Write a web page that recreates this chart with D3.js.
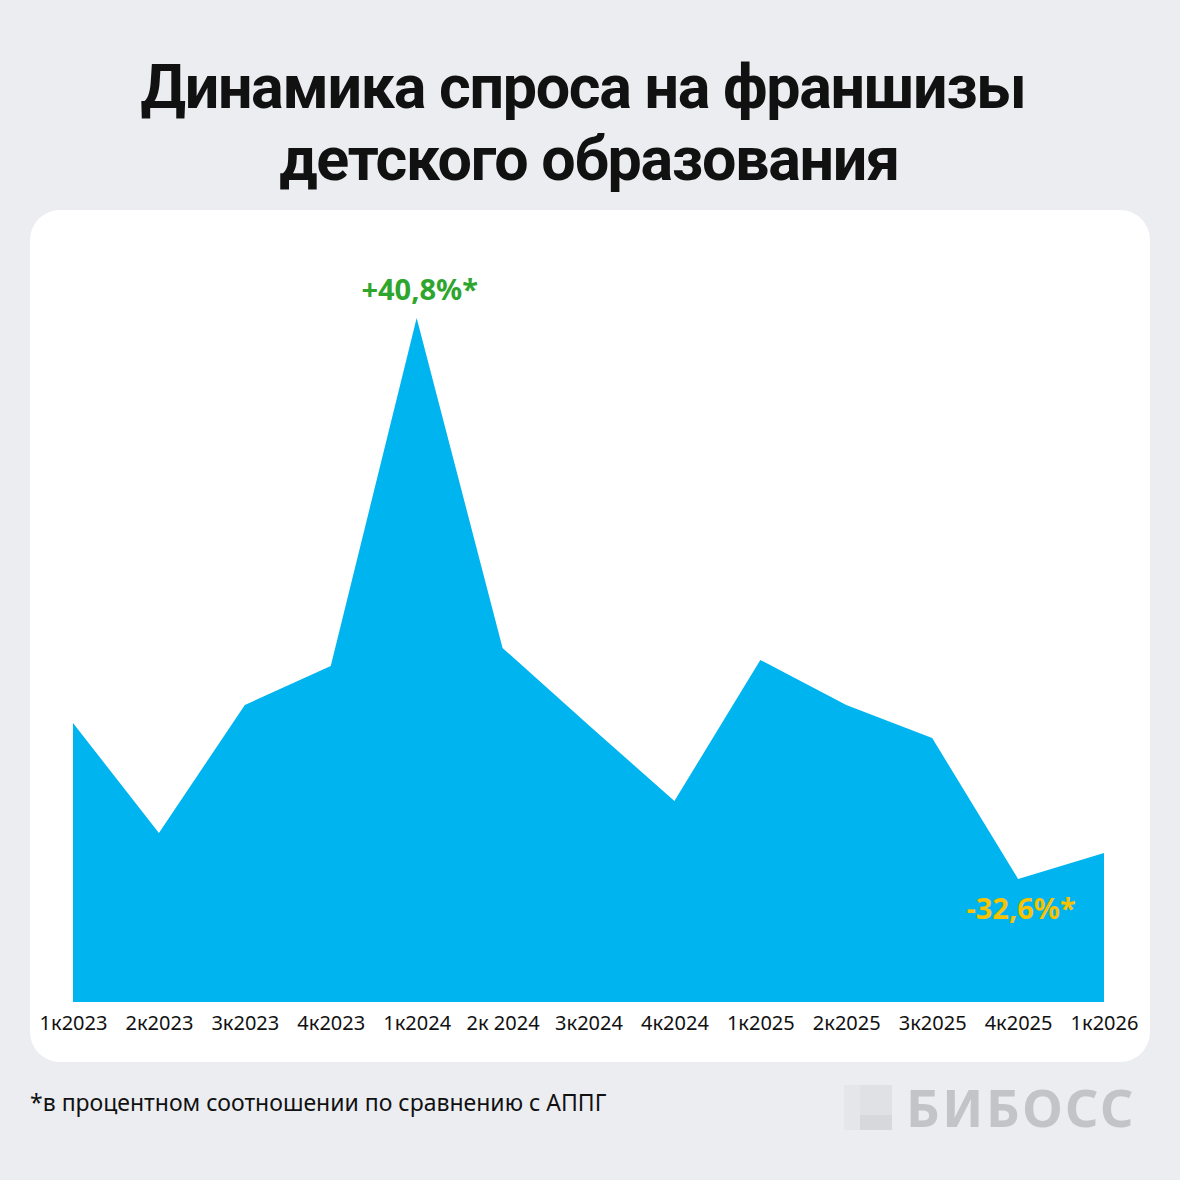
<!DOCTYPE html>
<html><head><meta charset="utf-8">
<script src="https://cdn.jsdelivr.net/npm/d3@7"></script>
<style>html,body{margin:0;padding:0;background:#ecedf1;}svg{display:block;}</style>
</head><body>
<script>
const categories = ["1к2023","2к2023","3к2023","4к2023","1к2024","2к 2024","3к2024","4к2024","1к2025","2к2025","3к2025","4к2025","1к2026"];
const values = [279, 169, 297, 336, 684, 354, 277, 201, 342, 297, 264, 123, 149];
const annotations = [
  {index: 4, text: "+40,8%*", color: "#2ea52d", dy: -18},
  {index: 11, text: "-32,6%*", color: "#f7c200", dy: 40}
];
const title = ["Динамика спроса на франшизы", "детского образования"];
const footnote = "*в процентном соотношении по сравнению с АППГ";

const W = 1180, H = 1180;
const svg = d3.select("body").append("svg").attr("width", W).attr("height", H);
svg.append("rect").attr("width", W).attr("height", H).attr("fill", "#ecedf1");

svg.selectAll("text.title").data(title).join("text")
  .attr("class","title")
  .attr("x", (d,i) => i === 0 ? 583 : 589).attr("y", (d,i) => 108 + i*72)
  .attr("text-anchor","middle")
  .attr("font-family","Roboto, sans-serif").attr("font-weight", 700)
  .attr("font-size", 61).attr("letter-spacing", -1.3).attr("fill","#111")
  .text(d => d);

svg.append("rect").attr("x", 30).attr("y", 210).attr("width", 1120).attr("height", 852)
  .attr("rx", 30).attr("fill", "#fff");

const x = d3.scalePoint().domain(categories).range([73, 1104]);
const y = d3.scaleLinear().domain([0, 684]).range([1002, 318]);

const area = d3.area().x((d,i) => x(categories[i])).y0(y(0)).y1(d => y(d)).curve(d3.curveLinear);
svg.append("path").datum(values).attr("d", area).attr("fill", "#00b4ef");

const ax = svg.append("g").attr("transform", `translate(0,${y(0)})`)
  .call(d3.axisBottom(x).tickSize(0).tickPadding(14));
ax.select(".domain").remove();
ax.selectAll("text").attr("font-family","'Noto Sans', sans-serif").attr("font-size", 20).attr("fill","#111").attr("dy","0.71em");

svg.selectAll("text.ann").data(annotations).join("text")
  .attr("class","ann")
  .attr("x", d => x(categories[d.index]) + 3)
  .attr("y", d => y(values[d.index]) + d.dy)
  .attr("text-anchor","middle")
  .attr("font-family","'Noto Sans', sans-serif").attr("font-weight",700)
  .attr("font-size", 29).attr("fill", d => d.color)
  .text(d => d.text);

svg.append("text").attr("x", 30).attr("y", 1111)
  .attr("font-family","'Noto Sans', sans-serif").attr("font-size", 23).attr("fill","#111")
  .text(footnote);

// logo
const logo = svg.append("g");
logo.append("rect").attr("x", 844).attr("y", 1085).attr("width", 48).attr("height", 45).attr("fill", "#e0e1e5");
logo.append("rect").attr("x", 844).attr("y", 1085).attr("width", 16).attr("height", 45).attr("fill", "#e5e6ea");
logo.append("rect").attr("x", 860).attr("y", 1115).attr("width", 32).attr("height", 15).attr("fill", "#d7d8dc");
logo.append("text").attr("x", 906).attr("y", 1127)
  .attr("font-family","'Noto Sans', sans-serif").attr("font-weight",700).attr("font-size", 52)
  .attr("letter-spacing", 2.5)
  .attr("fill","#c3c4c8").text("БИБОСС");
</script>
</body></html>
